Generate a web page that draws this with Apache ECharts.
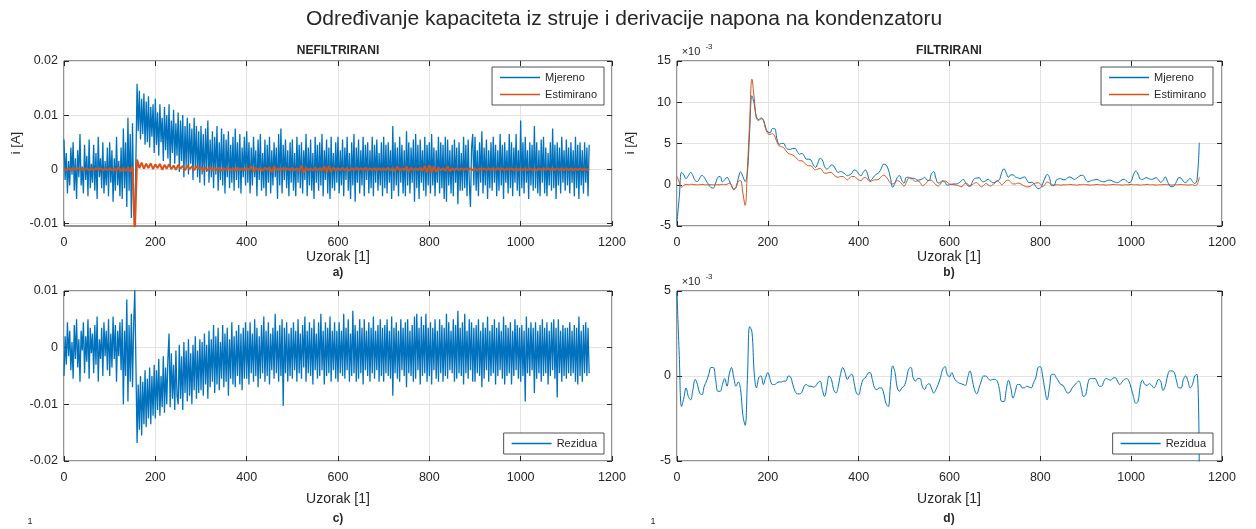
<!DOCTYPE html>
<html>
<head>
<meta charset="utf-8">
<script src="https://cdn.jsdelivr.net/npm/echarts@6/dist/echarts.min.js"></script>
<style>
html,body{margin:0;padding:0;background:#fff;}
#chart{width:1256px;height:529px;}
</style>
</head>
<body>
<div id="chart"></div>
<script>
// Sample index spacing of stored values
const STEP_RAW = 2.5;   // unfiltered signals: samples 0, 2.5, 5, ..., 1150
const STEP = 5;         // filtered signals:   samples 0, 5, 10, ..., 1150

// ---- a) NEFILTRIRANI, measured current, units of 1e-3 A ----
const aMeasured = [
 5.5,-2.0,3.0,-4.5,1.5,-3.0,4.0,-1.0,5.0,-4.0,2.0,-5.5,3.5,-1.5,6.5,-3.0,0.5,-4.5,4.5,-2.0,
 2.5,-5.0,5.5,-3.5,1.0,-2.5,4.5,-4.0,3.0,-5.5,6.0,-1.5,2.0,-3.5,5.0,-4.5,1.5,-3.0,4.0,-5.0,
 5.0,-2.5,3.5,-6.0,2.0,-4.0,6.0,-3.0,1.5,-5.0,4.0,-5.5,7.5,-3.5,5.0,-7.0,9.5,-4.0,6.5,-9.0,
 8.5,-6.0,-10.8,2.0,15.8,7.0,14.5,5.5,13.0,6.5,14.0,4.5,12.5,5.0,13.5,4.0,11.5,6.0,12.0,3.0,
 13.0,4.5,10.5,2.5,12.0,5.0,9.5,1.5,11.5,3.5,10.0,2.0,12.0,0.5,9.0,3.0,11.0,1.0,8.5,2.5,
 10.5,-0.5,9.0,1.5,10.0,-1.5,8.0,0.5,9.5,-1.0,8.5,1.0,7.5,-2.0,9.5,0.0,8.0,-1.5,7.0,-2.5,
 8.0,-1.0,6.5,-3.0,7.5,-0.5,9.0,-2.5,5.5,-1.5,7.0,-3.5,6.0,-1.0,8.0,-4.0,5.0,-2.0,7.5,-3.0,
 6.5,-4.5,5.5,-1.5,7.0,-3.5,4.5,-2.5,6.0,-4.0,7.5,-2.0,5.0,-3.5,6.5,-4.5,4.0,-1.5,6.0,-3.0,
 7.0,-2.5,5.0,-4.5,4.0,-3.0,6.0,-1.5,3.5,-5.0,5.5,-2.0,6.5,-4.0,3.0,-3.5,5.5,-5.0,4.5,-2.5,
 6.0,-4.5,3.5,-3.0,5.0,-1.5,4.0,-5.5,6.5,-3.0,7.5,-4.5,4.5,-2.0,5.5,-3.5,3.5,-5.0,5.0,-2.5,
 5.5,-4.0,3.0,-5.0,6.0,-2.5,4.5,-3.5,5.0,-4.5,3.5,-2.0,6.5,-5.0,4.0,-3.0,5.5,-4.0,3.0,-5.5,
 6.0,-2.5,4.5,-4.0,5.0,-3.0,6.5,-5.0,3.5,-2.0,5.5,-4.5,4.0,-5.5,6.0,-3.5,3.0,-4.0,5.0,-2.5,
 6.0,-4.5,3.5,-3.0,5.5,-5.0,4.0,-2.0,6.0,-4.0,3.0,-5.5,5.0,-3.0,6.5,-6.0,4.0,-2.5,5.5,-4.5,
 3.5,-3.0,6.0,-5.0,4.5,-2.0,5.0,-4.5,3.5,-3.5,6.0,-5.0,4.5,-2.5,5.5,-4.0,3.0,-3.0,5.0,-5.0,
 6.0,-3.5,4.5,-4.5,5.0,-2.5,3.5,-5.5,8.0,-4.0,5.0,-3.0,4.0,-5.0,6.0,-2.5,4.5,-4.5,3.5,-5.0,
 7.0,-3.0,5.0,-4.5,4.0,-2.5,5.5,-6.0,6.5,-3.5,4.5,-5.5,5.5,-2.5,3.5,-4.0,6.0,-5.0,4.5,-3.0,
 5.0,-4.5,6.5,-3.0,4.0,-5.0,3.5,-2.5,6.0,-4.5,5.0,-3.5,4.5,-5.5,6.0,-6.0,5.5,-3.0,3.5,-4.5,
 4.5,-5.0,5.5,-2.5,4.0,-6.5,5.0,-4.0,3.0,-4.0,6.0,-3.5,4.5,-5.0,5.5,-2.5,-7.0,4.0,6.5,-3.0,
 6.0,-4.0,3.5,-5.0,5.0,-2.5,7.0,-4.5,4.0,-3.0,5.5,-5.5,3.5,-3.5,5.0,-4.0,6.0,-2.5,4.5,-5.0,
 3.5,-4.0,6.5,-3.0,4.5,-5.5,5.0,-2.5,3.5,-4.5,6.5,-3.5,5.0,-5.0,4.0,-2.5,6.5,-4.0,3.5,-5.0,
 9.0,-3.5,5.0,-4.5,6.0,-2.5,3.5,-5.5,5.0,-3.0,4.5,-4.0,8.0,-3.5,5.0,-4.5,3.5,-5.0,5.5,-2.5,
 6.0,-4.5,4.0,-5.0,3.0,-3.0,5.0,-4.0,7.5,-3.5,4.5,-5.5,5.0,-3.0,4.0,-4.5,6.0,-2.5,3.5,-4.0,
 5.5,-3.0,4.0,-4.5,5.0,-2.5,3.5,-5.0,6.0,-3.5,4.5,-5.5,5.0,-3.0,3.5,-4.5,5.0,-2.5,4.0,-5.0,
 4.5
];
// ---- a) NEFILTRIRANI, estimated current, units of 1e-3 A (step 5) ----
const aEstimated = [
 0.2,-0.2,0.1,-0.2,0.2,-0.1,0.2,-0.2,0.1,-0.1,0.2,-0.2,0.1,-0.2,0.2,-0.1,0.2,-0.2,0.1,-0.2,
 0.2,-0.2,0.1,-0.3,0.4,-0.4,0.2,-0.3,0.3,-0.5,0.5,-12.0,1.8,0.2,1.2,0.1,1.0,0.2,1.1,0.0,
 0.9,0.2,1.0,-0.1,0.8,0.1,0.9,0.0,0.7,-0.1,0.8,0.1,0.6,-0.2,0.7,0.0,0.5,-0.2,0.6,0.0,
 0.4,-0.3,0.3,-0.2,0.4,-0.3,0.3,-0.2,0.3,-0.3,0.2,-0.2,0.3,-0.2,0.2,-0.3,0.3,-0.2,0.2,-0.2,
 0.3,-0.2,0.6,-0.5,0.3,-0.2,0.2,-0.3,0.3,-0.2,0.4,-0.6,0.5,-0.2,0.2,-0.3,0.3,-0.2,0.2,-0.2,
 0.3,-0.2,0.2,-0.3,0.7,-0.7,0.3,-0.2,0.2,-0.2,0.3,-0.2,0.2,-0.3,0.5,-0.6,0.6,-0.5,0.3,-0.2,
 0.2,-0.2,0.3,-0.2,0.2,-0.3,0.2,-0.2,0.3,-0.2,0.2,-0.2,0.3,-0.2,0.2,-0.2,0.2,-0.3,0.2,-0.2,
 0.2,-0.2,0.3,-0.2,0.2,-0.4,0.5,-0.3,0.2,-0.2,0.5,-0.5,0.3,-0.2,0.2,-0.2,0.3,-0.3,0.6,-0.6,
 0.7,-0.6,0.5,-0.5,0.3,-0.2,0.2,-0.3,0.5,-0.4,0.2,-0.2,0.2,-0.2,0.2,-0.2,0.2,-0.2,0.2,-0.2,
 0.2,-0.25,0.15,-0.2,0.2,-0.2,0.25,-0.2,0.2,-0.15,0.2,-0.2,0.2,-0.25,0.2,-0.2,0.15,-0.2,0.2,-0.2,
 0.2,-0.2,0.25,-0.2,0.15,-0.2,0.2,-0.25,0.2,-0.2,0.2,-0.15,0.2,-0.2,0.25,-0.2,0.2,-0.2,0.15,-0.2,
 0.2,-0.2,0.2,-0.25,0.2,-0.2,0.15,-0.2,0.2,-0.2,0.1
];

// ---- b) FILTRIRANI, units of 1e-3 A (step 5) ----
const bMeasured = [
 -4.5,-1.5,1.5,1.2,0.75,1.1,1.5,1.1,0.5,0.4,0.8,1.15,0.9,0.4,0.0,-0.35,-0.4,0.2,0.9,1.0,
 0.35,0.6,0.9,0.5,-0.1,-0.55,-0.3,0.8,1.55,1.0,0.4,1.5,6.5,10.8,9.8,8.2,7.9,8.1,7.9,7.0,
 6.4,6.3,6.8,6.8,5.6,4.9,5.0,5.0,4.5,4.3,4.3,4.4,4.4,4.0,3.7,3.8,3.5,3.1,3.1,3.0,
 2.4,2.1,2.6,3.2,3.0,2.2,1.9,2.1,2.4,2.3,1.8,1.5,1.6,1.5,1.3,1.1,1.2,1.4,1.8,1.7,
 1.3,1.1,1.5,1.8,1.2,0.5,0.7,1.1,1.3,1.5,2.0,2.5,2.4,1.9,0.8,-0.3,0.2,0.9,1.1,0.5,
 0.2,0.9,0.9,0.7,0.8,0.7,0.55,0.6,0.7,0.9,0.6,0.5,1.3,1.6,0.8,0.2,0.3,0.5,0.3,-0.05,
 0.0,0.05,0.1,0.1,0.2,0.4,0.65,0.3,-0.1,-0.2,0.3,0.75,0.8,0.87,0.5,0.35,0.5,0.65,0.45,0.25,
 0.3,0.5,0.6,1.5,1.95,1.4,0.9,1.2,1.2,0.95,0.85,0.75,0.85,0.95,0.6,0.25,0.3,0.2,-0.2,-0.45,
 -0.4,0.1,0.8,1.25,0.9,-0.1,-0.1,0.55,0.7,0.75,0.6,0.6,0.85,0.95,0.8,0.65,0.8,1.0,1.15,1.1,
 0.6,0.35,0.45,0.55,0.6,0.65,0.5,0.4,0.35,0.45,0.55,0.55,0.4,0.3,0.25,0.4,0.6,0.65,0.45,0.25,
 0.4,1.2,1.65,1.3,0.7,0.65,0.8,0.85,0.7,0.65,0.75,0.85,0.6,0.3,0.5,0.95,0.4,-0.15,-0.25,-0.1,
 0.4,0.85,0.8,0.4,0.25,0.55,0.75,0.4,0.15,0.6,5.1
];
const bEstimated = [
 1.0,0.3,-0.3,-0.1,0.05,0.0,0.05,0.05,0.0,0.0,0.0,0.05,0.0,0.0,0.0,0.0,0.0,0.0,0.0,0.0,
 0.05,0.0,0.05,0.2,-0.1,-0.6,-0.3,0.4,0.5,-1.0,-2.5,2.0,7.6,12.8,10.5,8.0,7.8,8.0,7.8,6.8,
 6.2,6.1,6.2,5.9,5.2,4.7,4.6,4.5,4.1,3.8,3.7,3.6,3.4,3.1,2.9,2.9,2.7,2.4,2.3,2.3,
 2.0,1.8,1.9,2.0,1.7,1.4,1.4,1.5,1.5,1.2,1.0,0.9,1.0,1.0,0.8,0.6,0.8,1.0,1.0,0.8,
 0.6,0.5,0.8,0.9,0.6,0.4,0.5,0.6,0.6,0.7,1.0,1.15,1.0,0.6,0.2,0.1,0.3,0.5,0.4,0.1,
 -0.15,0.3,0.8,0.85,0.6,0.4,0.45,0.3,-0.1,0.0,0.3,0.55,0.55,0.3,0.0,-0.15,0.1,0.4,0.45,0.3,
 0.1,0.05,0.0,-0.05,-0.1,-0.25,-0.1,0.2,0.1,-0.15,0.0,0.2,0.25,0.0,-0.25,-0.1,0.15,0.0,-0.15,0.0,
 0.2,0.45,0.3,0.0,0.2,0.5,0.55,0.3,0.1,0.1,0.2,0.15,0.0,-0.15,-0.25,-0.25,-0.1,0.1,0.2,0.25,
 0.1,-0.25,0.0,0.35,0.2,0.05,-0.05,0.0,0.0,-0.05,0.0,0.0,0.0,0.05,0.0,0.0,-0.05,0.0,0.0,0.05,
 0.0,0.0,-0.05,0.0,0.0,0.05,0.0,0.0,0.0,-0.05,0.0,0.0,0.05,0.0,0.0,0.0,-0.05,0.0,0.0,0.0,
 0.05,0.0,0.0,0.0,-0.05,0.0,0.0,0.05,0.0,0.0,0.0,-0.05,0.0,0.0,0.0,0.05,0.0,0.0,-0.05,0.0,
 0.0,0.0,0.05,0.0,0.0,-0.05,0.0,0.0,-0.1,0.0,0.9
];

// ---- c) residual, unfiltered, units of 1e-3 A (step 2.5) ----
const cResidual = [
 -5.0,2.0,-3.0,4.5,-1.5,3.0,-4.0,1.0,-5.5,4.0,-2.0,5.0,-3.5,1.5,-6.0,3.0,-0.5,4.5,-4.5,2.0,
 -2.5,5.0,-5.5,3.5,-1.0,2.5,-4.5,4.0,-3.0,5.5,-6.0,1.5,-2.0,3.5,-5.0,4.5,-1.5,3.0,-4.0,5.0,
 -5.0,2.5,-3.5,5.5,-2.0,4.0,-6.0,3.0,-1.5,4.5,-4.0,5.0,-10.0,3.0,-5.0,8.5,-9.5,4.0,-6.0,6.0,
 -7.0,4.0,10.2,-3.0,-16.8,-6.5,-14.5,-5.0,-15.5,-6.0,-13.5,-4.0,-14.0,-5.5,-12.5,-3.5,-13.5,-5.0,-12.0,-3.0,
 -12.5,-4.0,-11.0,-2.0,-12.0,-5.0,-10.5,-1.5,-11.5,-3.5,-10.0,-2.0,2.5,-10.5,-1.0,-9.0,-3.0,-11.0,-0.5,-8.5,
 -10.0,0.5,-9.0,-1.5,-11.0,1.0,-8.0,-0.5,-9.5,1.5,-8.5,-1.0,-10.0,0.5,-7.5,2.0,-9.0,-0.5,-8.0,1.5,
 -7.5,1.0,-8.5,2.5,-6.5,0.5,-9.0,3.0,-7.0,1.5,-6.0,4.0,-8.0,2.0,-6.5,3.5,-7.5,1.0,-5.5,4.0,
 -7.0,2.5,-6.0,3.5,-8.5,1.5,-5.5,4.5,-6.5,2.0,-7.0,3.0,-5.0,4.0,-6.5,2.5,-7.5,3.5,-5.5,4.5,
 -5.5,3.0,-6.5,4.5,-4.5,2.5,-6.0,5.0,-5.0,3.5,-7.0,2.0,-5.5,4.0,-4.5,5.5,-6.0,3.0,-5.0,4.5,
 -6.5,2.5,-4.0,3.5,-5.5,6.0,-4.5,3.0,-6.0,4.0,-5.0,5.0,-10.3,3.5,-4.5,4.5,-6.0,2.5,-5.0,3.5,
 -5.5,4.5,-4.0,3.0,-6.0,5.0,-4.5,2.5,-5.5,4.0,-3.5,5.5,-6.0,3.0,-4.5,4.5,-5.0,3.5,-6.5,5.0,
 -4.0,2.5,-5.5,4.5,-5.0,6.0,-4.0,3.0,-6.5,4.5,-5.0,3.5,-4.5,5.5,-6.0,3.0,-4.0,4.5,-5.5,3.0,
 -6.0,4.5,-4.5,3.0,-5.0,6.0,-5.5,3.5,-4.0,5.0,-6.0,2.5,-5.0,6.5,-4.5,4.0,-6.0,3.0,-5.5,5.0,
 -4.5,3.5,-6.5,5.0,-4.0,3.0,-5.0,4.5,-6.0,3.5,-4.5,5.5,-5.5,3.0,-4.0,4.0,-6.0,5.0,-5.0,3.5,
 -6.0,4.0,-4.5,5.0,-5.0,3.0,-5.5,5.5,-8.5,3.5,-4.5,4.5,-5.5,3.0,-6.0,5.0,-4.0,3.5,-5.0,4.5,
 -7.0,5.0,-4.5,3.0,-5.0,4.0,-6.0,5.5,-5.5,6.0,-4.0,3.5,-6.5,5.5,-5.0,4.0,-4.5,6.0,-6.0,3.5,
 -5.0,4.5,-6.5,3.5,-4.0,5.0,-5.5,3.0,-6.0,5.0,-4.5,4.0,-6.0,3.5,-5.0,6.0,-5.5,4.5,-4.0,3.0,
 -4.5,5.0,-6.0,4.0,-5.5,6.5,-4.5,3.5,-5.0,4.5,-6.5,6.0,-4.5,3.0,-5.5,5.0,-4.0,4.5,-6.0,3.5,
 -6.0,4.0,-4.5,5.0,-5.0,3.0,-7.0,4.5,-5.5,3.5,-4.0,5.5,-6.0,3.0,-5.0,4.0,-4.5,5.0,-6.5,3.5,
 -5.0,4.5,-4.0,3.0,-5.5,5.5,-6.5,4.0,-5.0,3.5,-4.5,4.5,-6.5,3.0,-5.0,5.0,-4.0,4.0,-5.5,3.5,
 -6.0,4.0,-5.0,3.0,-9.5,5.5,-4.5,3.5,-5.0,4.5,-4.0,3.5,-8.0,4.5,-5.5,3.0,-4.5,4.0,-6.0,5.0,
 -5.0,3.5,-4.5,4.5,-6.5,3.0,-5.0,4.5,-4.0,5.0,-5.5,3.5,-8.8,5.0,-4.5,3.0,-6.0,4.0,-5.0,3.5,
 -5.5,3.5,-4.5,4.5,-5.0,3.0,-4.5,4.0,-6.0,3.5,-6.5,5.5,-5.0,3.0,-6.0,4.0,-4.5,4.5,-5.0,3.5,
 -4.5
];

// ---- d) residual, filtered, units of 1e-3 A (step 5) ----
const dResidual = [
 4.9,1.2,-1.8,-1.3,-0.7,-1.2,-1.4,-0.8,-0.2,-0.5,-1.0,-1.1,-0.6,-0.3,0.1,0.5,0.5,-0.2,-0.9,-0.9,
 -0.5,-0.15,-0.6,0.1,0.5,-0.1,-0.6,-0.35,-0.8,-2.3,-2.9,-0.2,2.9,2.6,0.2,-0.7,-0.1,0.0,-0.5,-0.1,
 0.2,-0.2,-0.5,-0.5,-0.4,-0.35,-0.35,-0.3,-0.3,0.0,-0.05,-0.5,-0.9,-1.05,-1.05,-0.95,-0.6,-0.5,-0.6,-0.6,
 -0.65,-0.6,-0.4,-0.3,-0.8,-1.2,-0.6,0.0,-0.2,-0.8,-1.0,-0.6,0.1,0.5,0.2,-0.2,0.0,0.1,-0.4,-1.0,
 -1.1,-0.6,-0.2,-0.1,0.15,0.2,-0.2,-0.7,-0.8,-0.7,-0.7,-1.0,-1.6,-1.8,-0.5,0.6,0.2,-0.7,-0.9,-0.7,
 -0.6,-0.2,0.4,0.5,-0.1,-0.3,-0.15,-0.15,-0.6,-0.8,-0.55,-0.45,-0.7,-1.0,-0.8,-0.5,-0.1,0.4,0.55,0.1,
 -0.05,0.2,-0.1,-0.3,-0.4,-0.45,-0.5,-0.55,-0.1,0.3,-0.2,-0.8,-1.05,-0.7,-0.3,0.0,0.0,-0.15,-0.25,-0.2,
 -0.2,-0.3,-0.8,-1.5,-1.5,-0.8,-0.25,-0.7,-1.3,-0.9,-0.5,-0.5,-0.7,-0.7,-0.6,-0.65,-0.7,-0.4,-0.1,0.5,
 0.55,0.0,-0.8,-1.4,-0.7,0.1,0.1,-0.1,-0.3,-0.5,-0.55,-0.8,-1.0,-0.95,-0.7,-0.55,-0.4,-0.3,-0.7,-1.2,
 -1.1,-0.4,-0.15,-0.15,-0.15,-0.35,-0.6,-0.6,-0.3,-0.15,-0.2,-0.25,-0.12,-0.1,-0.3,-0.5,-0.35,-0.2,-0.15,-0.3,
 -0.7,-1.2,-1.6,-1.5,-0.6,-0.25,-0.5,-0.55,-0.45,-0.55,-0.7,-0.5,-0.2,-0.3,-0.85,-0.6,0.0,0.3,0.3,0.2,
 -0.3,-0.7,-0.7,-0.2,0.0,-0.3,-0.7,-0.5,0.0,0.1,-5.5
];

// axis ticks
const xTicks = [0,200,400,600,800,1000,1200];
const yTicksA = [-10,0,10,20];
const yTicksB = [-5,0,5,10,15];
const yTicksC = [-20,-10,0,10];
const yTicksD = [-5,0,5];

const BLUE = '#0072BD', ORANGE = '#D95319', INK = '#262626';
const FONT = '"Liberation Sans", Arial, sans-serif';

const GRIDS = [
  {left:64, top:61, width:548, height:165},
  {left:677, top:61, width:545, height:165},
  {left:64, top:291, width:548, height:170},
  {left:677, top:291, width:545, height:170}
];
const Y_CFG = [
  {min:-10.5, max:20, ticks:yTicksA, fmt:v => v === 0 ? '0' : (v/1000).toFixed(2)},
  {min:-5, max:15, ticks:yTicksB, fmt:v => String(v)},
  {min:-20, max:10, ticks:yTicksC, fmt:v => v === 0 ? '0' : (v/1000).toFixed(2)},
  {min:-5, max:5, ticks:yTicksD, fmt:v => String(v)}
];

function pairs(arr, step){ return arr.map((v,i) => [i*step, v]); }

const xAxis = [], yAxis = [];
GRIDS.forEach((g, gi) => {
  const yc = Y_CFG[gi];
  xAxis.push({
    type:'value', gridIndex:gi, min:0, max:1200, position:'bottom',
    axisLine:{show:false, onZero:false},
    axisTick:{show:true, inside:true, length:5, customValues:xTicks, lineStyle:{color:INK}},
    axisLabel:{show:true, customValues:xTicks, formatter:v => String(v), color:INK, fontSize:12.5, fontFamily:FONT, margin:10},
    splitLine:{show:true, lineStyle:{color:'#e3e3e3', width:1}}
  });
  xAxis.push({
    type:'value', gridIndex:gi, min:0, max:1200, position:'top',
    axisLine:{show:false, onZero:false},
    axisTick:{show:true, inside:true, length:5, customValues:xTicks, lineStyle:{color:INK}},
    axisLabel:{show:false}, splitLine:{show:false}
  });
  yAxis.push({
    type:'value', gridIndex:gi, min:yc.min, max:yc.max, position:'left',
    axisLine:{show:false, onZero:false},
    axisTick:{show:true, inside:true, length:5, customValues:yc.ticks, lineStyle:{color:INK}},
    axisLabel:{show:true, customValues:yc.ticks, formatter:yc.fmt, color:INK, fontSize:12.5, fontFamily:FONT, margin:6},
    splitLine:{show:true, lineStyle:{color:'#e3e3e3', width:1}}
  });
  yAxis.push({
    type:'value', gridIndex:gi, min:yc.min, max:yc.max, position:'right',
    axisLine:{show:false, onZero:false},
    axisTick:{show:true, inside:true, length:5, customValues:yc.ticks, lineStyle:{color:INK}},
    axisLabel:{show:false}, splitLine:{show:false}
  });
});

function lineSeries(name, gi, arr, step, color, width, smooth){
  return {
    type:'line', name:name, xAxisIndex:gi*2, yAxisIndex:gi*2,
    data:pairs(arr, step), symbol:'none', showSymbol:false, smooth:smooth,
    lineStyle:{color:color, width:width}, itemStyle:{color:color},
    clip:true, animation:false, silent:true
  };
}

const legendBase = {
  orient:'vertical', icon:'rect', itemWidth:40, itemHeight:1.5, itemGap:6,
  backgroundColor:'#fff', borderColor:INK, borderWidth:0.8, borderRadius:0,
  padding:[5,7,5,8], selectedMode:false,
  textStyle:{color:INK, fontSize:11, fontFamily:FONT}
};

function txt(x, y, text, size, weight, extra){
  return Object.assign({
    type:'text', x:x, y:y, silent:true,
    style:{text:text, fill:INK, font:(weight||'normal') + ' ' + size + 'px ' + FONT,
           textAlign:'center', textVerticalAlign:'middle'}
  }, extra || {});
}

const option = {
  backgroundColor:'#fff',
  animation:false,
  grid: GRIDS.map(g => Object.assign({show:true, borderColor:INK, borderWidth:1, backgroundColor:'#fff', containLabel:false}, g)),
  xAxis: xAxis,
  yAxis: yAxis,
  legend: [
    Object.assign({}, legendBase, {data:['Mjereno','Estimirano'], right:652, top:67}),
    Object.assign({}, legendBase, {data:['Mjereno','Estimirano'], right:43, top:67}),
    Object.assign({}, legendBase, {data:['Rezidua'], right:652, top:433}),
    Object.assign({}, legendBase, {data:['Rezidua'], right:43, top:433})
  ],
  series: [
    lineSeries('Mjereno', 0, aMeasured, STEP_RAW, BLUE, 1.3, false),
    lineSeries('Estimirano', 0, aEstimated, STEP, ORANGE, 2, false),
    lineSeries('Mjereno', 1, bMeasured, STEP, BLUE, 1, 0.4),
    lineSeries('Estimirano', 1, bEstimated, STEP, ORANGE, 1, 0.4),
    lineSeries('Rezidua', 2, cResidual, STEP_RAW, BLUE, 1.3, false),
    lineSeries('Rezidua', 3, dResidual, STEP, BLUE, 1, 0.4)
  ],
  graphic: [
    txt(624, 19, 'Određivanje kapaciteta iz struje i derivacije napona na kondenzatoru', 21),
    txt(338, 51, 'NEFILTRIRANI', 12, 'bold'),
    txt(949, 51, 'FILTRIRANI', 12, 'bold'),
    txt(338, 257, 'Uzorak [1]', 14),
    txt(949, 257, 'Uzorak [1]', 14),
    txt(338, 273, 'a)', 12, 'bold'),
    txt(949, 273, 'b)', 12, 'bold'),
    txt(338, 499, 'Uzorak [1]', 14),
    txt(949, 499, 'Uzorak [1]', 14),
    txt(338, 519, 'c)', 12, 'bold'),
    txt(949, 519, 'd)', 12, 'bold'),
    txt(16, 143, 'i [A]', 13, 'normal', {rotation:Math.PI/2}),
    txt(630, 143, 'i [A]', 13, 'normal', {rotation:Math.PI/2}),
    txt(691, 52, '×10', 11),
    txt(709, 47, '-3', 8),
    txt(691, 282, '×10', 11),
    txt(709, 277, '-3', 8),
    txt(30, 522, '1', 9),
    txt(653, 522, '1', 9)
  ]
};

const chart = echarts.init(document.getElementById('chart'), null, {renderer:'canvas'});
chart.setOption(option);
</script>
</body>
</html>
